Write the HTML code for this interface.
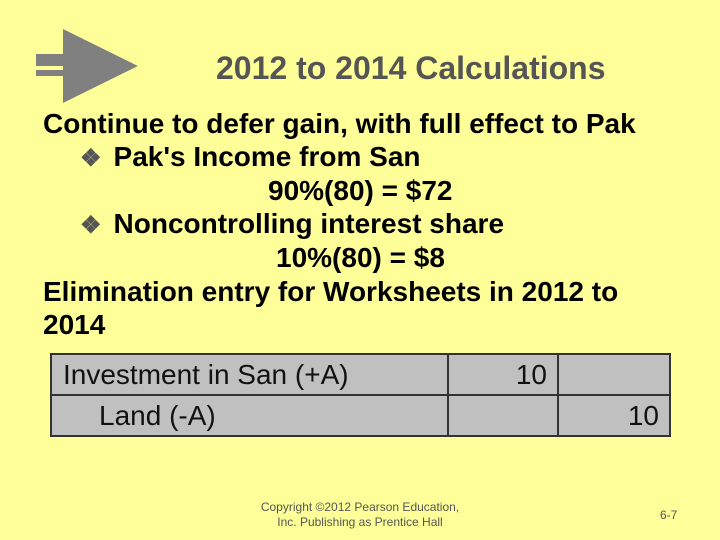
<!DOCTYPE html>
<html><head><meta charset="utf-8"><style>
body{margin:0;width:720px;height:540px;background:#FFFF99;position:relative;overflow:hidden;font-family:"Liberation Sans",sans-serif}
.t{position:absolute;white-space:nowrap;font-weight:bold;font-size:28px;color:#000;line-height:28px}
.b{color:#555;font-size:24px;margin-right:12px}
td{border:2px solid #333;font-size:28px;color:#111;padding:0;height:41px;box-sizing:border-box}
</style></head><body>
<svg style="position:absolute;left:0;top:0" width="160" height="110">
<polygon points="63,29 138,66 63,103" fill="#808080"/>
<rect x="36" y="54" width="28" height="12" fill="#808080"/>
<rect x="36" y="70" width="28" height="6" fill="#808080"/>
</svg>
<div class="t" style="left:216px;top:52px;font-size:32px;color:#555;line-height:32px">2012 to 2014 Calculations</div>
<div class="t" style="left:43px;top:110px">Continue to defer gain, with full effect to Pak</div>
<div class="t" style="left:80px;top:143px"><span class="b">❖</span>Pak's Income from San</div>
<div class="t" style="left:268px;top:177px">90%(80) = $72</div>
<div class="t" style="left:80px;top:210px"><span class="b">❖</span>Noncontrolling interest share</div>
<div class="t" style="left:276px;top:244px">10%(80) = $8</div>
<div class="t" style="left:43px;top:278px">Elimination entry for Worksheets in 2012 to</div>
<div class="t" style="left:43px;top:311px">2014</div>
<table style="position:absolute;left:50px;top:353px;width:619px;border-collapse:collapse;background:#C0C0C0;table-layout:fixed">
<colgroup><col style="width:397px"><col style="width:110px"><col style="width:112px"></colgroup>
<tr><td style="padding-left:11px;white-space:nowrap">Investment in San (+A)</td><td style="text-align:right;padding-right:10px">10</td><td></td></tr>
<tr><td style="padding-left:47px">Land (-A)</td><td></td><td style="text-align:right;padding-right:10px">10</td></tr>
</table>
<div style="position:absolute;left:240px;top:500px;width:240px;text-align:center;font-size:12px;color:#555;line-height:15px">Copyright ©2012 Pearson Education,<br>Inc. Publishing as Prentice Hall</div>
<div style="position:absolute;left:660px;top:508px;font-size:12px;color:#555">6-7</div>
</body></html>
